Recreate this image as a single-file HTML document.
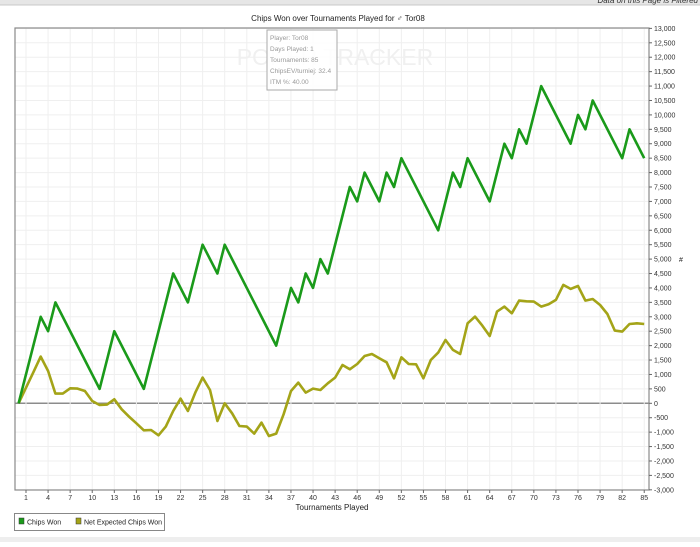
<!DOCTYPE html>
<html><head><meta charset="utf-8">
<style>
html,body{margin:0;padding:0;background:#fff;}
body{width:700px;height:542px;overflow:hidden;position:relative;font-family:"Liberation Sans",sans-serif;}
svg text{font-family:"Liberation Sans",sans-serif;}
</style></head>
<body>
<svg id="chart" width="700" height="542" viewBox="0 0 700 542" xmlns="http://www.w3.org/2000/svg">
  <rect x="0" y="0" width="700" height="5" fill="#e6e6e6"/>
  <line x1="0" y1="5" x2="700" y2="5" stroke="#c8c8c8"/>
  <text x="698" y="3" text-anchor="end" font-size="8" font-style="italic" fill="#333">Data on this Page is Filtered</text>
  <text x="338" y="21" text-anchor="middle" font-size="8" fill="#222">Chips Won over Tournaments Played for ♂ Tor08</text>
  <g id="grid"></g>
  <text x="335" y="65" text-anchor="middle" font-size="23" fill="#f0f0f0" letter-spacing="0">POKER TRACKER</text>
  <g id="series"></g>
  <rect x="15" y="28" width="634" height="462" fill="none" stroke="#8a8a8a" stroke-width="1.2"/>
  <g id="axes"></g>
  <g>
    <rect x="267" y="30" width="70" height="60" fill="#fff" fill-opacity="0.85" stroke="#aaa"/>
    <text x="270" y="40" font-size="6.5" fill="#999">Player: Tor08</text>
    <text x="270" y="51" font-size="6.5" fill="#999">Days Played: 1</text>
    <text x="270" y="62" font-size="6.5" fill="#999">Tournaments: 85</text>
    <text x="270" y="73" font-size="6.5" fill="#999">ChipsEV/turniej: 32.4</text>
    <text x="270" y="84" font-size="6.5" fill="#999">ITM %: 40.00</text>
  </g>
  <text x="332" y="510" text-anchor="middle" font-size="8" fill="#222">Tournaments Played</text>
  <text x="681" y="262" text-anchor="middle" font-size="7" fill="#222">#</text>
  <g>
    <rect x="14.5" y="513.5" width="150" height="17" fill="#fff" stroke="#888"/>
    <g>
      <rect x="19" y="518" width="5" height="6" fill="#1a9a1a" stroke="#333" stroke-width="0.5"/>
      <text x="27" y="524.5" font-size="7" fill="#222">Chips Won</text>
    </g>
    <g>
      <rect x="76" y="518" width="5" height="6" fill="#a4a418" stroke="#333" stroke-width="0.5"/>
      <text x="84" y="524.5" font-size="7" fill="#222">Net Expected Chips Won</text>
    </g>
  </g>
  <rect x="0" y="537" width="700" height="5" fill="#eeeeee"/>
</svg>
<script>
const chipsT = [0,3,4,5,11,13,17,21,23,25,27,28,35,37,38,39,40,41,42,45,46,47,49,50,51,52,57,59,60,61,64,66,67,68,69,71,75,76,77,78,82,83,85];
const chipsV = [0,3000,2500,3500,500,2500,500,4500,3500,5500,4500,5500,2000,4000,3500,4500,4000,5000,4500,7500,7000,8000,7000,8000,7500,8500,6000,8000,7500,8500,7000,9000,8500,9500,9000,11000,9000,10000,9500,10500,8500,9500,8500];
const nevV = [0,540,1080,1620,1120,335,335,520,508,428,81,-58,-46,139,-208,-462,-694,-936,-925,-1110,-809,-266,162,-266,370,890,462,-613,0,-347,-786,-809,-1052,-670,-1133,-1052,-381,428,717,370,508,462,694,890,1329,1180,1364,1641,1711,1560,1422,867,1595,1364,1352,867,1503,1757,2196,1850,1711,2774,3006,2693,2335,3179,3352,3121,3560,3537,3526,3352,3433,3584,4104,3965,4069,3560,3618,3410,3098,2520,2485,2751,2774,2751];
const xTicks = [1,4,7,10,13,16,19,22,25,28,31,34,37,40,43,46,49,52,55,58,61,64,67,70,73,76,79,82,85];
const yMin = -3000, yMax = 13000, yStep = 500;

const NS = 'http://www.w3.org/2000/svg';
function xs(t){ return 18.64 + 7.36 * t; }
function ys(v){ return 403.3 - (v / 500) * 14.42; }
function fmt(v){ return v.toLocaleString('en-US'); }
function mk(tag, attrs, parent){
  const e = document.createElementNS(NS, tag);
  for (const k in attrs) e.setAttribute(k, attrs[k]);
  parent.appendChild(e); return e;
}
const grid = document.getElementById('grid');
const axes = document.getElementById('axes');
const series = document.getElementById('series');

for (let v = yMin; v <= yMax; v += yStep) {
  const y = ys(v);
  const gl = mk('line', {x1:15, x2:649, y1:y, y2:y, stroke: v===0 ? '#8c8c8c' : '#efefef', 'stroke-width': v===0 ? 1.5 : 1}, grid);
  
  
  const tk = mk('line', {x1:649, x2:652, y1:y, y2:y, stroke:'#666'}, axes);
  
  
  const lb = mk('text', {x:654, y:y+2.5, 'font-size':7, fill:'#333'}, axes);
  
  
  lb.textContent = fmt(v);
}
xTicks.forEach(t => {
  const x = xs(t);
  const gl = mk('line', {x1:x, x2:x, y1:28, y2:490, stroke:'#efefef'}, grid);
  
  
  const tk = mk('line', {x1:x, x2:x, y1:490, y2:493, stroke:'#666'}, axes);
  
  
  const lb = mk('text', {x:x, y:500, 'font-size':7, fill:'#333', 'text-anchor':'middle'}, axes);
  
  
  lb.textContent = t;
});

const nevPts = nevV.map((v, i) => xs(i).toFixed(1) + ',' + ys(v).toFixed(1)).join(' ');
const nev = mk('polyline', {points:nevPts, fill:'none', stroke:'#a4a418', 'stroke-width':2.6, 'stroke-linejoin':'round'}, series);



const chipsPts = chipsT.map((t, i) => xs(t).toFixed(1) + ',' + ys(chipsV[i]).toFixed(1)).join(' ');
const chips = mk('polyline', {points:chipsPts, fill:'none', stroke:'#1a9a1a', 'stroke-width':2.6, 'stroke-linejoin':'round'}, series);


</script>
</body></html>
